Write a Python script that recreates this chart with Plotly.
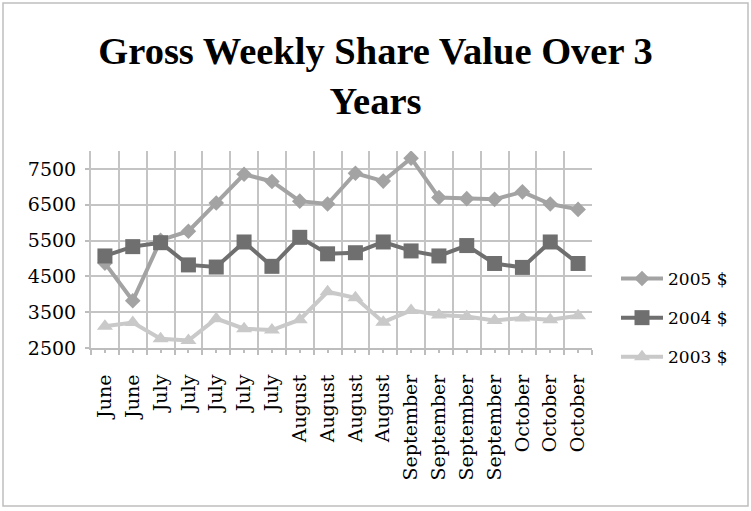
import plotly.graph_objects as go

weeks = ["June", "June", "July", "July", "July", "July", "July",
         "August", "August", "August", "August",
         "September", "September", "September", "September",
         "October", "October", "October"]
values_2005 = [4870, 3820, 5510, 5760, 6550, 7350, 7150, 6600, 6520, 7380,
               7160, 7800, 6700, 6670, 6650, 6860, 6520, 6370]
values_2004 = [5070, 5330, 5440, 4820, 4760, 5460, 4780, 5590, 5130, 5160,
               5460, 5210, 5070, 5360, 4860, 4750, 5460, 4860]
values_2003 = [3110, 3210, 2760, 2710, 3320, 3040, 3000, 3290, 4070, 3900,
               3220, 3550, 3420, 3380, 3270, 3340, 3290, 3400]
series_names = ["2005 $", "2004 $", "2003 $"]
y_ticks = [2500, 3500, 4500, 5500, 6500, 7500]

W, H = 751, 511
L, R, T, B = 91, 159, 151, 163
pw, ph = W - L - R, H - T - B

x_idx = list(range(len(weeks)))

fig = go.Figure()
styles = [
    dict(color="#a3a3a3", symbol="diamond", size=12),
    dict(color="#6f6f6f", symbol="square", size=15),
    dict(color="#c9c9c9", symbol="triangle-up", size=14),
]
for name, vals, st in zip(series_names, [values_2005, values_2004, values_2003], styles):
    fig.add_trace(go.Scatter(
        x=x_idx, y=vals, name=name, mode="lines+markers",
        line=dict(color=st["color"], width=4),
        marker=dict(symbol=st["symbol"], size=st["size"], color=st["color"]),
        legendgroup=name,
    ))

serif = "DejaVu Serif"
fig.update_layout(
    width=W, height=H,
    margin=dict(l=L, r=R, t=T, b=B, autoexpand=False),
    paper_bgcolor="white", plot_bgcolor="white",
    title=dict(text="<b>Gross Weekly Share Value Over 3<br>Years</b>",
               x=0.5, xanchor="center", xref="container",
               y=1 - 64 / H, yanchor="top", yref="container",
               font=dict(family="Liberation Serif", size=38.5, color="black")),
    font=dict(family=serif, color="black"),
    showlegend=True,
    legend=dict(x=(616 - L) / pw, xanchor="left", y=(T + ph - 281 + 20) / ph,
                yanchor="top", font=dict(family=serif, size=17),
                itemwidth=42,
                tracegroupgap=14, bgcolor="rgba(0,0,0,0)"),
    xaxis=dict(
        range=[-0.5, len(weeks) - 0.5],
        tickmode="array", tickvals=x_idx, ticktext=weeks,
        tickangle=-90, tickfont=dict(family=serif, size=19),
        showgrid=False, zeroline=False,
        ticks="outside", ticklen=3, tickcolor="#bdbdbd", tickwidth=1.5,
        showline=True, linecolor="#bdbdbd", linewidth=2,
        ticklabelstandoff=14,
        minor=dict(tick0=-0.5, dtick=1, showgrid=True, gridcolor="#c4c4c4",
                   gridwidth=2, ticks="outside", ticklen=5,
                   tickcolor="#bdbdbd", tickwidth=1.5),
    ),
    yaxis=dict(
        range=[2500, 8000], tickmode="array", tickvals=y_ticks,
        tickfont=dict(family=serif, size=19),
        showgrid=True, gridcolor="#c4c4c4", gridwidth=2, zeroline=False,
        ticks="outside", ticklen=4, tickcolor="#bdbdbd", tickwidth=1.5,
        showline=True, linecolor="#c4c4c4", linewidth=2,
        ticklabelstandoff=5,
    ),
)

# outer chart border
fig.add_shape(type="rect", xref="paper", yref="paper",
              x0=(3 - L) / pw, x1=(748 - L) / pw,
              y0=(T + ph - 506) / ph, y1=(T + ph - 3) / ph,
              line=dict(color="#bfbfbf", width=1.5), fillcolor="rgba(0,0,0,0)",
              layer="below")

fig.write_html("out.html", config={"displayModeBar": False},
               post_script="document.body.style.margin='0';document.body.style.padding='0';")
